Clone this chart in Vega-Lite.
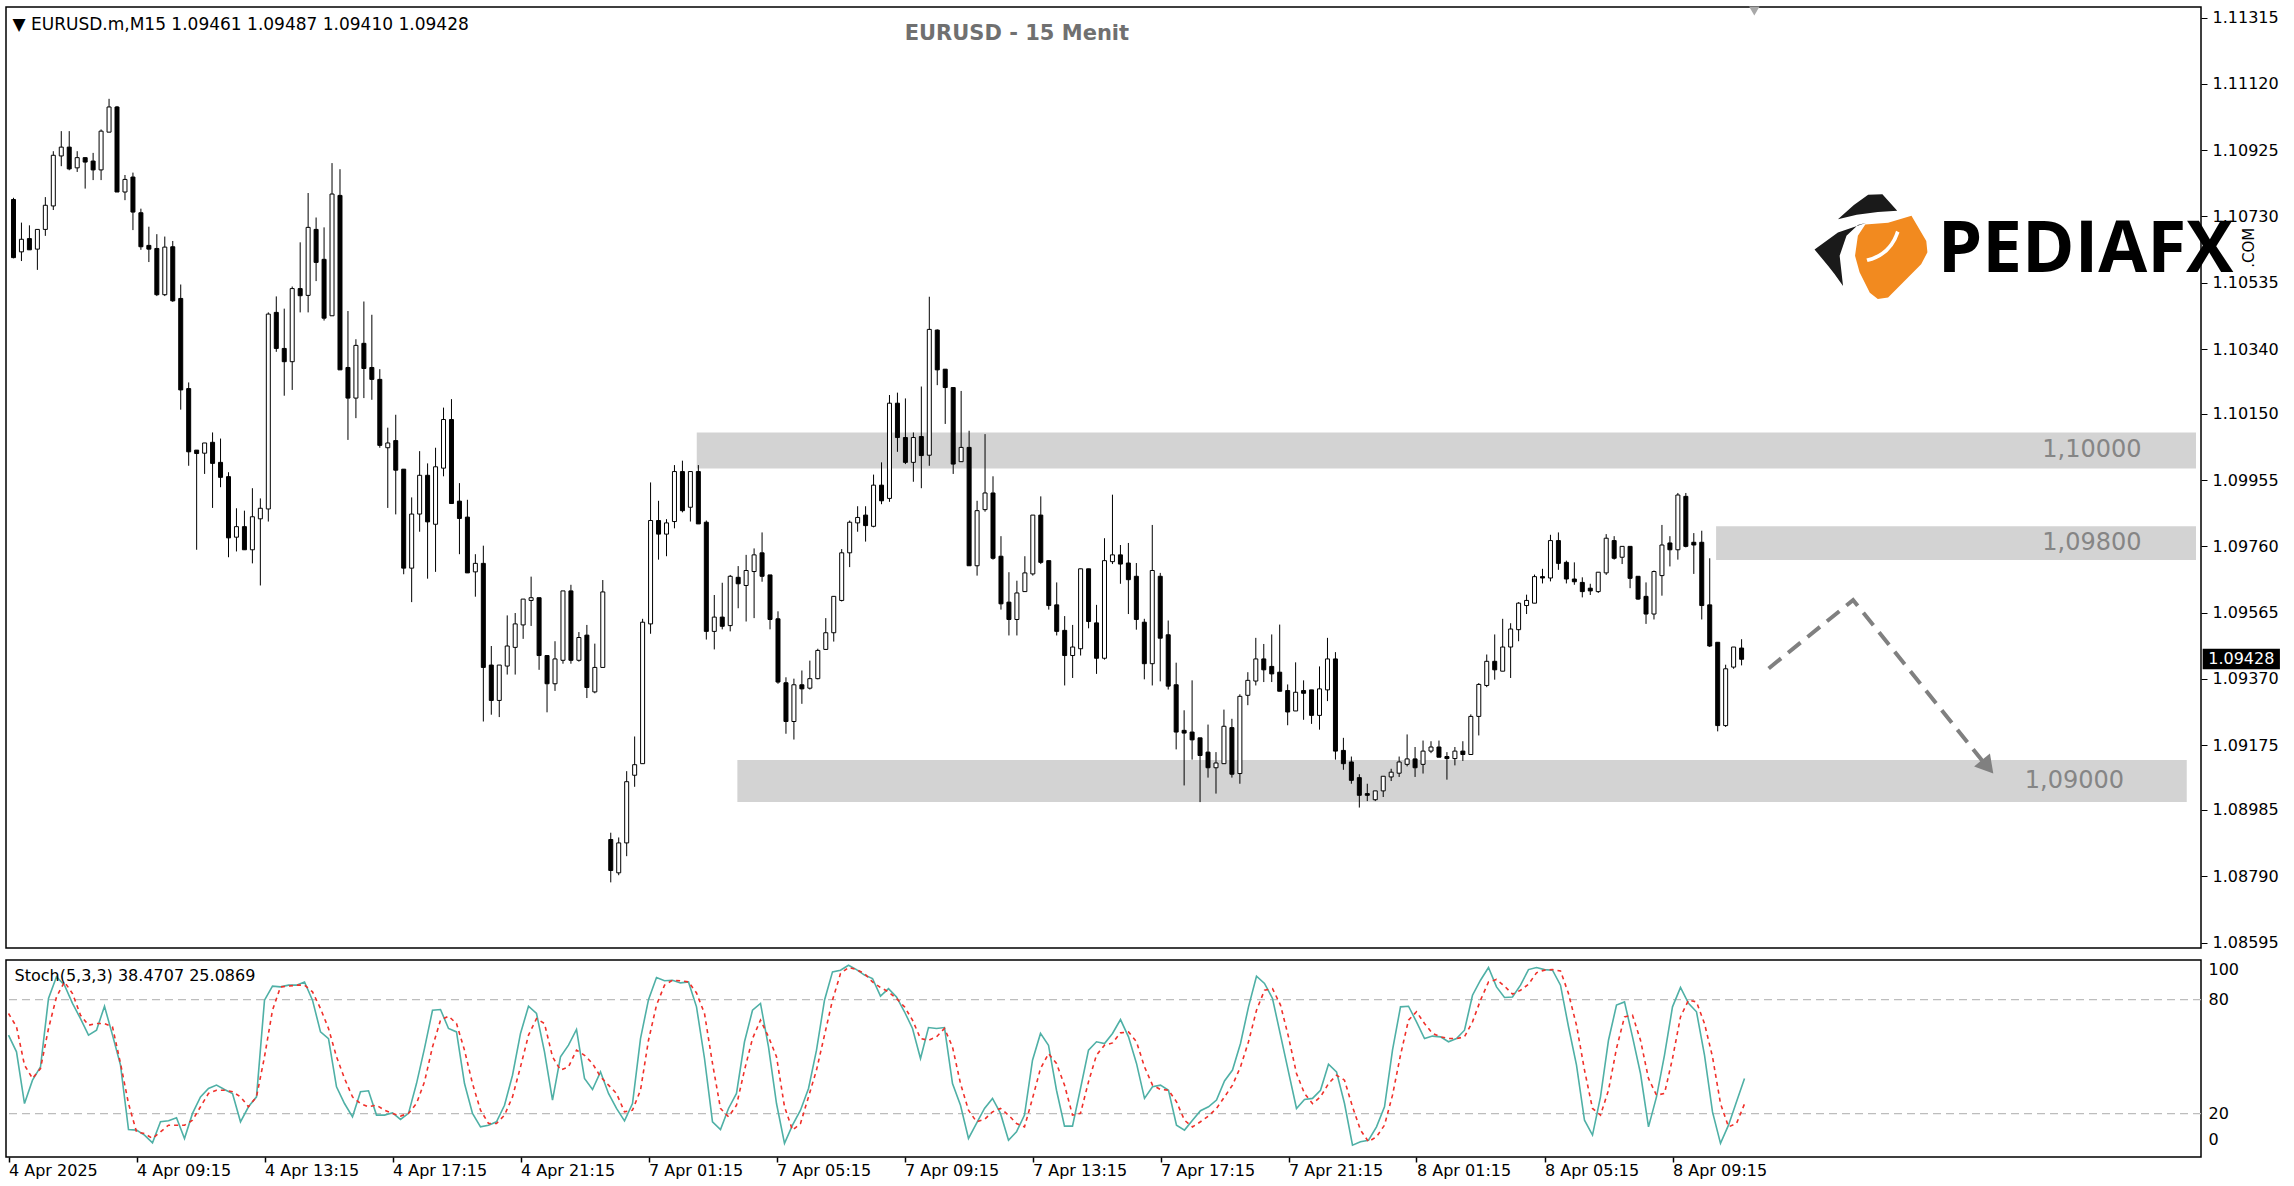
{
"$schema":"https://vega.github.io/schema/vega-lite/v6.json",
"background":"white",
"padding":{"left":4,"top":5,"right":0,"bottom":0},
"autosize":{"type":"pad"},
"spacing":7,
"config":{"view":{"stroke":"black","strokeWidth":1.5},"axis":{"labelFont":"DejaVu Sans","labelFontSize":16,"labelColor":"black","domain":false,"grid":false,"tickColor":"black","title":null}},
"datasets":{"bars":[
{"i":0,"o":1.1078,"h":1.10785,"l":1.10607,"c":1.10609,"k":61.3,"d":72.7},
{"i":1,"o":1.10626,"h":1.10712,"l":1.10599,"c":1.10663,"k":52.5,"d":65.7},
{"i":2,"o":1.10665,"h":1.10704,"l":1.10632,"c":1.10632,"k":25.3,"d":45.5},
{"i":3,"o":1.10634,"h":1.10692,"l":1.10573,"c":1.10692,"k":37.6,"d":38.5},
{"i":4,"o":1.10692,"h":1.10787,"l":1.10673,"c":1.10763,"k":44.6,"d":43.7},
{"i":5,"o":1.10761,"h":1.10922,"l":1.10749,"c":1.1091,"k":80.6,"d":64.8},
{"i":6,"o":1.10908,"h":1.10981,"l":1.10878,"c":1.10934,"k":92.0,"d":81.4},
{"i":7,"o":1.10934,"h":1.10981,"l":1.10866,"c":1.1087,"k":87.6,"d":89.3},
{"i":8,"o":1.10873,"h":1.10922,"l":1.10861,"c":1.10903,"k":78.0,"d":83.2},
{"i":9,"o":1.10903,"h":1.10903,"l":1.10812,"c":1.1089,"k":70.0,"d":71.8},
{"i":10,"o":1.10893,"h":1.10917,"l":1.10837,"c":1.10867,"k":61.3,"d":66.5},
{"i":11,"o":1.10867,"h":1.10986,"l":1.10837,"c":1.10981,"k":63.9,"d":67.4},
{"i":12,"o":1.10978,"h":1.11076,"l":1.10978,"c":1.11052,"k":76.5,"d":67.4},
{"i":13,"o":1.11052,"h":1.11055,"l":1.10802,"c":1.10802,"k":61.3,"d":65.7},
{"i":14,"o":1.10802,"h":1.10852,"l":1.10778,"c":1.10839,"k":45.5,"d":46.4},
{"i":15,"o":1.10846,"h":1.10859,"l":1.1069,"c":1.10743,"k":11.6,"d":25.3},
{"i":16,"o":1.10741,"h":1.10753,"l":1.10632,"c":1.10641,"k":11.3,"d":10.4},
{"i":17,"o":1.10645,"h":1.107,"l":1.10596,"c":1.10634,"k":8.7,"d":9.5},
{"i":18,"o":1.10636,"h":1.10678,"l":1.10496,"c":1.105,"k":4.6,"d":6.9},
{"i":19,"o":1.105,"h":1.10671,"l":1.10496,"c":1.1064,"k":15.7,"d":10.4},
{"i":20,"o":1.10641,"h":1.10658,"l":1.10479,"c":1.10482,"k":16.2,"d":13.9},
{"i":21,"o":1.10489,"h":1.1053,"l":1.10162,"c":1.1022,"k":17.8,"d":13.9},
{"i":22,"o":1.10224,"h":1.10242,"l":1.09997,"c":1.10038,"k":6.9,"d":13.9},
{"i":23,"o":1.10043,"h":1.10043,"l":1.0975,"c":1.10033,"k":20.1,"d":16.5},
{"i":24,"o":1.10034,"h":1.10064,"l":1.09973,"c":1.10064,"k":28.8,"d":23.6},
{"i":25,"o":1.10066,"h":1.10095,"l":1.09873,"c":1.10004,"k":33.2,"d":30.6},
{"i":26,"o":1.10007,"h":1.10077,"l":1.09934,"c":1.09963,"k":35.0,"d":32.3},
{"i":27,"o":1.09965,"h":1.09978,"l":1.09728,"c":1.09785,"k":32.7,"d":32.3},
{"i":28,"o":1.09787,"h":1.09872,"l":1.09745,"c":1.09818,"k":30.6,"d":31.5},
{"i":29,"o":1.09818,"h":1.09865,"l":1.0975,"c":1.0975,"k":15.7,"d":28.8},
{"i":30,"o":1.0975,"h":1.09931,"l":1.0971,"c":1.09847,"k":23.6,"d":23.6},
{"i":31,"o":1.09841,"h":1.09901,"l":1.09645,"c":1.09872,"k":28.8,"d":28.8},
{"i":32,"o":1.0987,"h":1.10448,"l":1.09833,"c":1.10443,"k":79.7,"d":49.9},
{"i":33,"o":1.10448,"h":1.10495,"l":1.10332,"c":1.10342,"k":87.1,"d":74.4},
{"i":34,"o":1.10342,"h":1.10459,"l":1.10203,"c":1.10303,"k":86.7,"d":86.7},
{"i":35,"o":1.10303,"h":1.10524,"l":1.1022,"c":1.10518,"k":87.6,"d":87.1},
{"i":36,"o":1.10518,"h":1.10654,"l":1.10448,"c":1.10497,"k":87.6,"d":87.6},
{"i":37,"o":1.10498,"h":1.10799,"l":1.10448,"c":1.10698,"k":89.3,"d":87.6},
{"i":38,"o":1.10692,"h":1.10727,"l":1.1054,"c":1.10595,"k":79.7,"d":84.1},
{"i":39,"o":1.10604,"h":1.10698,"l":1.10424,"c":1.10431,"k":63.0,"d":75.3},
{"i":40,"o":1.10438,"h":1.10887,"l":1.10438,"c":1.10796,"k":59.5,"d":64.8},
{"i":41,"o":1.10792,"h":1.10869,"l":1.10279,"c":1.10279,"k":34.1,"d":49.9},
{"i":42,"o":1.10286,"h":1.10452,"l":1.10073,"c":1.10196,"k":25.3,"d":38.5},
{"i":43,"o":1.10196,"h":1.10369,"l":1.10137,"c":1.10351,"k":18.3,"d":28.8},
{"i":44,"o":1.10357,"h":1.1048,"l":1.10196,"c":1.10283,"k":31.5,"d":25.3},
{"i":45,"o":1.10286,"h":1.10441,"l":1.10191,"c":1.10251,"k":32.0,"d":23.6},
{"i":46,"o":1.10251,"h":1.10281,"l":1.1005,"c":1.10057,"k":19.2,"d":24.4},
{"i":47,"o":1.1005,"h":1.10109,"l":1.09873,"c":1.10064,"k":19.2,"d":21.8},
{"i":48,"o":1.10071,"h":1.10147,"l":1.09854,"c":1.09984,"k":20.4,"d":20.1},
{"i":49,"o":1.09987,"h":1.09987,"l":1.09678,"c":1.09696,"k":16.9,"d":18.7},
{"i":50,"o":1.09696,"h":1.09904,"l":1.09596,"c":1.09855,"k":20.1,"d":20.1},
{"i":51,"o":1.09855,"h":1.1004,"l":1.09803,"c":1.09969,"k":35.8,"d":25.3},
{"i":52,"o":1.09969,"h":1.10004,"l":1.09665,"c":1.09832,"k":54.3,"d":36.7},
{"i":53,"o":1.09825,"h":1.1005,"l":1.09685,"c":1.09994,"k":74.4,"d":55.1},
{"i":54,"o":1.0999,"h":1.10168,"l":1.09966,"c":1.10133,"k":74.8,"d":69.2},
{"i":55,"o":1.10133,"h":1.10193,"l":1.09886,"c":1.09886,"k":64.8,"d":71.3},
{"i":56,"o":1.09893,"h":1.09946,"l":1.09737,"c":1.09842,"k":63.0,"d":67.4},
{"i":57,"o":1.09846,"h":1.09897,"l":1.09682,"c":1.09682,"k":35.8,"d":53.4},
{"i":58,"o":1.09685,"h":1.09737,"l":1.09612,"c":1.0971,"k":20.1,"d":35.8},
{"i":59,"o":1.0971,"h":1.09762,"l":1.09245,"c":1.09404,"k":13.0,"d":21.8},
{"i":60,"o":1.09411,"h":1.09467,"l":1.09265,"c":1.09307,"k":13.9,"d":14.8},
{"i":61,"o":1.09307,"h":1.09411,"l":1.09258,"c":1.09411,"k":15.7,"d":14.8},
{"i":62,"o":1.09408,"h":1.09557,"l":1.09383,"c":1.09467,"k":24.4,"d":19.2},
{"i":63,"o":1.09463,"h":1.09564,"l":1.09383,"c":1.09532,"k":40.2,"d":28.8},
{"i":64,"o":1.09529,"h":1.09605,"l":1.09488,"c":1.09605,"k":62.2,"d":44.6},
{"i":65,"o":1.09601,"h":1.09671,"l":1.09526,"c":1.09609,"k":76.5,"d":61.3},
{"i":66,"o":1.09609,"h":1.09609,"l":1.09397,"c":1.09439,"k":72.7,"d":70.0},
{"i":67,"o":1.09439,"h":1.09439,"l":1.09272,"c":1.09356,"k":52.5,"d":67.4},
{"i":68,"o":1.09356,"h":1.09481,"l":1.09335,"c":1.09429,"k":27.1,"d":49.9},
{"i":69,"o":1.09425,"h":1.09629,"l":1.09415,"c":1.09629,"k":49.9,"d":42.9},
{"i":70,"o":1.09629,"h":1.09647,"l":1.09415,"c":1.09425,"k":56.0,"d":44.6},
{"i":71,"o":1.09425,"h":1.09508,"l":1.09421,"c":1.09492,"k":64.3,"d":53.4},
{"i":72,"o":1.09499,"h":1.09529,"l":1.09314,"c":1.09345,"k":38.5,"d":50.7},
{"i":73,"o":1.09332,"h":1.09474,"l":1.09328,"c":1.09404,"k":32.7,"d":46.4},
{"i":74,"o":1.09404,"h":1.09661,"l":1.09404,"c":1.09626,"k":42.0,"d":39.4},
{"i":75,"o":1.08898,"h":1.08918,"l":1.08772,"c":1.08807,"k":30.6,"d":35.0},
{"i":76,"o":1.088,"h":1.08904,"l":1.08793,"c":1.08888,"k":22.7,"d":30.6},
{"i":77,"o":1.08888,"h":1.09099,"l":1.08849,"c":1.09068,"k":16.2,"d":20.9},
{"i":78,"o":1.09087,"h":1.09201,"l":1.09053,"c":1.09118,"k":25.3,"d":21.8},
{"i":79,"o":1.09121,"h":1.09547,"l":1.09121,"c":1.09537,"k":59.5,"d":32.3},
{"i":80,"o":1.09532,"h":1.09948,"l":1.09503,"c":1.09836,"k":80.0,"d":58.6},
{"i":81,"o":1.09836,"h":1.09894,"l":1.09721,"c":1.09796,"k":91.6,"d":77.1},
{"i":82,"o":1.09796,"h":1.0984,"l":1.09731,"c":1.09829,"k":89.9,"d":87.6},
{"i":83,"o":1.09833,"h":1.09999,"l":1.09813,"c":1.0998,"k":90.2,"d":90.2},
{"i":84,"o":1.0998,"h":1.10012,"l":1.0986,"c":1.09865,"k":88.8,"d":89.9},
{"i":85,"o":1.09875,"h":1.0998,"l":1.09833,"c":1.0998,"k":89.3,"d":89.3},
{"i":86,"o":1.0998,"h":1.09999,"l":1.09826,"c":1.09826,"k":76.2,"d":83.5},
{"i":87,"o":1.09831,"h":1.09836,"l":1.09486,"c":1.0951,"k":49.0,"d":72.7},
{"i":88,"o":1.0951,"h":1.09617,"l":1.09457,"c":1.09552,"k":15.7,"d":46.4},
{"i":89,"o":1.09552,"h":1.09653,"l":1.09516,"c":1.09525,"k":11.6,"d":22.7},
{"i":90,"o":1.09527,"h":1.09676,"l":1.0951,"c":1.09672,"k":22.7,"d":18.3},
{"i":91,"o":1.09669,"h":1.09702,"l":1.09578,"c":1.0965,"k":30.6,"d":24.4},
{"i":92,"o":1.09645,"h":1.09735,"l":1.09539,"c":1.09689,"k":57.8,"d":42.9},
{"i":93,"o":1.09686,"h":1.09754,"l":1.09549,"c":1.09735,"k":74.4,"d":59.5},
{"i":94,"o":1.09741,"h":1.09801,"l":1.09656,"c":1.09672,"k":78.0,"d":69.2},
{"i":95,"o":1.09676,"h":1.09676,"l":1.09516,"c":1.09545,"k":55.1,"d":60.4},
{"i":96,"o":1.09547,"h":1.09569,"l":1.09356,"c":1.09361,"k":25.3,"d":49.9},
{"i":97,"o":1.09359,"h":1.09375,"l":1.09209,"c":1.09245,"k":4.3,"d":23.6},
{"i":98,"o":1.09245,"h":1.09371,"l":1.09192,"c":1.09353,"k":13.9,"d":11.3},
{"i":99,"o":1.09353,"h":1.09395,"l":1.09297,"c":1.09341,"k":21.8,"d":14.8},
{"i":100,"o":1.09343,"h":1.09424,"l":1.09339,"c":1.09371,"k":33.2,"d":28.8},
{"i":101,"o":1.09371,"h":1.09459,"l":1.09369,"c":1.09454,"k":53.4,"d":42.9},
{"i":102,"o":1.09457,"h":1.09549,"l":1.09457,"c":1.09506,"k":79.7,"d":61.3},
{"i":103,"o":1.09506,"h":1.09613,"l":1.0948,"c":1.09613,"k":94.6,"d":79.7},
{"i":104,"o":1.09601,"h":1.09752,"l":1.09598,"c":1.09741,"k":95.5,"d":93.7},
{"i":105,"o":1.09741,"h":1.09836,"l":1.09699,"c":1.09831,"k":98.1,"d":96.9},
{"i":106,"o":1.09829,"h":1.09878,"l":1.09803,"c":1.09845,"k":95.8,"d":95.8},
{"i":107,"o":1.09852,"h":1.09878,"l":1.09774,"c":1.09821,"k":92.9,"d":93.7},
{"i":108,"o":1.09819,"h":1.09971,"l":1.09816,"c":1.0994,"k":91.1,"d":89.3},
{"i":109,"o":1.0994,"h":1.10007,"l":1.09884,"c":1.09894,"k":81.8,"d":86.4},
{"i":110,"o":1.09901,"h":1.10205,"l":1.09891,"c":1.10181,"k":85.8,"d":84.1},
{"i":111,"o":1.10181,"h":1.10212,"l":1.10038,"c":1.1008,"k":81.4,"d":80.6},
{"i":112,"o":1.1008,"h":1.10195,"l":1.10002,"c":1.10007,"k":73.6,"d":76.2},
{"i":113,"o":1.10007,"h":1.10095,"l":1.0995,"c":1.1008,"k":64.8,"d":69.2},
{"i":114,"o":1.10083,"h":1.1023,"l":1.09931,"c":1.10027,"k":49.0,"d":59.5},
{"i":115,"o":1.10028,"h":1.10494,"l":1.09997,"c":1.10398,"k":65.3,"d":58.6},
{"i":116,"o":1.10396,"h":1.10398,"l":1.10234,"c":1.10279,"k":64.8,"d":60.4},
{"i":117,"o":1.10281,"h":1.10281,"l":1.1012,"c":1.10227,"k":65.3,"d":64.8},
{"i":118,"o":1.10227,"h":1.10227,"l":1.09973,"c":1.10002,"k":35.8,"d":55.1},
{"i":119,"o":1.10009,"h":1.10217,"l":1.10009,"c":1.10051,"k":24.4,"d":35.8},
{"i":120,"o":1.10051,"h":1.101,"l":1.09703,"c":1.09703,"k":6.9,"d":21.8},
{"i":121,"o":1.09703,"h":1.09894,"l":1.09674,"c":1.09865,"k":14.8,"d":15.7},
{"i":122,"o":1.09868,"h":1.1009,"l":1.09862,"c":1.09917,"k":22.7,"d":16.9},
{"i":123,"o":1.09917,"h":1.09966,"l":1.09721,"c":1.09725,"k":28.0,"d":20.9},
{"i":124,"o":1.09731,"h":1.0979,"l":1.09574,"c":1.09591,"k":20.1,"d":22.7},
{"i":125,"o":1.09596,"h":1.09684,"l":1.09498,"c":1.09545,"k":6.0,"d":19.2},
{"i":126,"o":1.09545,"h":1.09659,"l":1.09498,"c":1.09623,"k":10.4,"d":14.8},
{"i":127,"o":1.09627,"h":1.09731,"l":1.09627,"c":1.09682,"k":19.2,"d":13.0},
{"i":128,"o":1.09679,"h":1.09852,"l":1.09674,"c":1.09852,"k":48.1,"d":28.0},
{"i":129,"o":1.09852,"h":1.09907,"l":1.09708,"c":1.09713,"k":62.2,"d":43.7},
{"i":130,"o":1.09718,"h":1.09718,"l":1.09574,"c":1.09586,"k":56.0,"d":51.6},
{"i":131,"o":1.09588,"h":1.09654,"l":1.09498,"c":1.0951,"k":32.3,"d":46.4},
{"i":132,"o":1.09513,"h":1.09555,"l":1.09351,"c":1.09439,"k":13.4,"d":35.0},
{"i":133,"o":1.09439,"h":1.09529,"l":1.09373,"c":1.09464,"k":13.4,"d":19.2},
{"i":134,"o":1.09459,"h":1.09694,"l":1.09439,"c":1.09694,"k":33.2,"d":20.1},
{"i":135,"o":1.09694,"h":1.09694,"l":1.09519,"c":1.09539,"k":53.4,"d":36.7},
{"i":136,"o":1.09535,"h":1.09588,"l":1.09385,"c":1.09431,"k":57.8,"d":50.8},
{"i":137,"o":1.09431,"h":1.09784,"l":1.09427,"c":1.09718,"k":56.9,"d":56.0},
{"i":138,"o":1.09715,"h":1.09912,"l":1.09708,"c":1.09735,"k":62.2,"d":57.2},
{"i":139,"o":1.09735,"h":1.09764,"l":1.0965,"c":1.09708,"k":69.5,"d":62.5},
{"i":140,"o":1.09711,"h":1.0977,"l":1.09561,"c":1.09662,"k":60.4,"d":63.0},
{"i":141,"o":1.09672,"h":1.09711,"l":1.09515,"c":1.09545,"k":46.4,"d":57.8},
{"i":142,"o":1.09537,"h":1.09547,"l":1.09369,"c":1.09415,"k":28.0,"d":44.6},
{"i":143,"o":1.09415,"h":1.09823,"l":1.09351,"c":1.09689,"k":34.1,"d":35.0},
{"i":144,"o":1.09672,"h":1.09682,"l":1.09363,"c":1.0949,"k":35.0,"d":32.7},
{"i":145,"o":1.095,"h":1.09542,"l":1.09339,"c":1.09349,"k":32.3,"d":32.3},
{"i":146,"o":1.09353,"h":1.09418,"l":1.09163,"c":1.09214,"k":13.9,"d":26.2},
{"i":147,"o":1.09219,"h":1.09278,"l":1.09057,"c":1.09211,"k":11.3,"d":16.5},
{"i":148,"o":1.09214,"h":1.09366,"l":1.09133,"c":1.09191,"k":16.5,"d":13.0},
{"i":149,"o":1.09197,"h":1.09197,"l":1.09008,"c":1.09145,"k":21.5,"d":15.7},
{"i":150,"o":1.09155,"h":1.09236,"l":1.0908,"c":1.09109,"k":23.6,"d":18.7},
{"i":151,"o":1.09109,"h":1.09155,"l":1.09033,"c":1.09123,"k":27.1,"d":22.7},
{"i":152,"o":1.09121,"h":1.0928,"l":1.09121,"c":1.09231,"k":37.2,"d":28.8},
{"i":153,"o":1.09227,"h":1.09253,"l":1.0908,"c":1.0909,"k":42.9,"d":35.0},
{"i":154,"o":1.09092,"h":1.09325,"l":1.09062,"c":1.09319,"k":56.9,"d":44.6},
{"i":155,"o":1.09322,"h":1.0939,"l":1.09293,"c":1.09366,"k":76.2,"d":57.8},
{"i":156,"o":1.09364,"h":1.09491,"l":1.09351,"c":1.09429,"k":92.3,"d":74.4},
{"i":157,"o":1.09429,"h":1.09473,"l":1.09361,"c":1.09397,"k":88.5,"d":84.9},
{"i":158,"o":1.09407,"h":1.09501,"l":1.09361,"c":1.09385,"k":80.6,"d":85.8},
{"i":159,"o":1.0939,"h":1.0953,"l":1.09334,"c":1.09334,"k":61.3,"d":77.1},
{"i":160,"o":1.09336,"h":1.09354,"l":1.09234,"c":1.09273,"k":42.0,"d":60.4},
{"i":161,"o":1.09276,"h":1.09419,"l":1.09276,"c":1.09331,"k":22.7,"d":41.1},
{"i":162,"o":1.09336,"h":1.09366,"l":1.0925,"c":1.09328,"k":27.4,"d":30.6},
{"i":163,"o":1.09338,"h":1.09338,"l":1.09238,"c":1.09263,"k":28.0,"d":25.3},
{"i":164,"o":1.09263,"h":1.09407,"l":1.09221,"c":1.09341,"k":32.3,"d":28.8},
{"i":165,"o":1.09338,"h":1.09491,"l":1.09305,"c":1.09429,"k":46.0,"d":35.8},
{"i":166,"o":1.09429,"h":1.09449,"l":1.09133,"c":1.09158,"k":42.0,"d":40.2},
{"i":167,"o":1.0916,"h":1.09197,"l":1.09103,"c":1.09121,"k":25.3,"d":37.6},
{"i":168,"o":1.09126,"h":1.09142,"l":1.09062,"c":1.09072,"k":3.4,"d":23.6},
{"i":169,"o":1.0908,"h":1.0909,"l":1.08992,"c":1.09028,"k":5.2,"d":11.3},
{"i":170,"o":1.09033,"h":1.09062,"l":1.09011,"c":1.09028,"k":6.0,"d":5.2},
{"i":171,"o":1.09015,"h":1.09041,"l":1.09011,"c":1.09041,"k":13.0,"d":7.8},
{"i":172,"o":1.09041,"h":1.09084,"l":1.09023,"c":1.09084,"k":23.6,"d":13.9},
{"i":173,"o":1.09082,"h":1.09106,"l":1.0907,"c":1.09096,"k":53.4,"d":29.7},
{"i":174,"o":1.09093,"h":1.09142,"l":1.09082,"c":1.09126,"k":76.2,"d":50.8},
{"i":175,"o":1.09119,"h":1.09207,"l":1.09113,"c":1.09135,"k":76.5,"d":69.2},
{"i":176,"o":1.09135,"h":1.0917,"l":1.09082,"c":1.09109,"k":68.3,"d":73.6},
{"i":177,"o":1.09119,"h":1.09189,"l":1.09092,"c":1.09158,"k":59.5,"d":67.4},
{"i":178,"o":1.09158,"h":1.09187,"l":1.09152,"c":1.0917,"k":60.8,"d":62.2},
{"i":179,"o":1.0917,"h":1.09189,"l":1.0914,"c":1.0914,"k":60.4,"d":60.4},
{"i":180,"o":1.09142,"h":1.09155,"l":1.09074,"c":1.09136,"k":57.8,"d":59.5},
{"i":181,"o":1.09136,"h":1.0917,"l":1.09116,"c":1.09158,"k":59.5,"d":59.5},
{"i":182,"o":1.09158,"h":1.09187,"l":1.09129,"c":1.09148,"k":63.9,"d":60.4},
{"i":183,"o":1.09148,"h":1.09266,"l":1.09148,"c":1.0926,"k":82.3,"d":68.3},
{"i":184,"o":1.0926,"h":1.09358,"l":1.09204,"c":1.09354,"k":90.2,"d":79.7},
{"i":185,"o":1.09351,"h":1.09442,"l":1.09346,"c":1.09422,"k":96.9,"d":89.3},
{"i":186,"o":1.09422,"h":1.09501,"l":1.09368,"c":1.09397,"k":86.7,"d":90.6},
{"i":187,"o":1.09393,"h":1.09547,"l":1.09393,"c":1.09464,"k":81.1,"d":87.1},
{"i":188,"o":1.09464,"h":1.09534,"l":1.09373,"c":1.09517,"k":81.4,"d":82.9},
{"i":189,"o":1.09515,"h":1.09596,"l":1.09481,"c":1.09593,"k":87.6,"d":84.9},
{"i":190,"o":1.09586,"h":1.09618,"l":1.09561,"c":1.09601,"k":95.8,"d":88.1},
{"i":191,"o":1.09593,"h":1.09677,"l":1.09593,"c":1.09671,"k":96.9,"d":94.1},
{"i":192,"o":1.09671,"h":1.09694,"l":1.09651,"c":1.09667,"k":95.8,"d":95.5},
{"i":193,"o":1.09667,"h":1.09794,"l":1.09657,"c":1.09777,"k":95.5,"d":95.8},
{"i":194,"o":1.09777,"h":1.09801,"l":1.09691,"c":1.0971,"k":87.6,"d":95.1},
{"i":195,"o":1.09713,"h":1.09718,"l":1.09651,"c":1.09664,"k":65.7,"d":83.2},
{"i":196,"o":1.09664,"h":1.09713,"l":1.09647,"c":1.09656,"k":45.5,"d":66.5},
{"i":197,"o":1.09654,"h":1.09669,"l":1.0961,"c":1.09627,"k":16.5,"d":42.9},
{"i":198,"o":1.09637,"h":1.0965,"l":1.09617,"c":1.09629,"k":8.7,"d":22.7},
{"i":199,"o":1.09627,"h":1.09684,"l":1.09623,"c":1.09684,"k":28.8,"d":19.2},
{"i":200,"o":1.09682,"h":1.09796,"l":1.09676,"c":1.09784,"k":58.6,"d":32.3},
{"i":201,"o":1.09777,"h":1.0979,"l":1.09721,"c":1.09725,"k":77.1,"d":54.3},
{"i":202,"o":1.09728,"h":1.0976,"l":1.09708,"c":1.0976,"k":78.8,"d":70.9},
{"i":203,"o":1.0976,"h":1.0976,"l":1.09637,"c":1.09666,"k":60.4,"d":71.8},
{"i":204,"o":1.09672,"h":1.09672,"l":1.09603,"c":1.09605,"k":41.1,"d":58.6},
{"i":205,"o":1.09613,"h":1.09654,"l":1.09532,"c":1.09561,"k":13.0,"d":38.5},
{"i":206,"o":1.09561,"h":1.09689,"l":1.09545,"c":1.09686,"k":28.8,"d":29.7},
{"i":207,"o":1.09674,"h":1.09823,"l":1.09615,"c":1.09764,"k":50.8,"d":30.6},
{"i":208,"o":1.0977,"h":1.0979,"l":1.09701,"c":1.0975,"k":76.2,"d":49.0},
{"i":209,"o":1.0975,"h":1.09917,"l":1.09721,"c":1.09911,"k":86.4,"d":70.9},
{"i":210,"o":1.09907,"h":1.09917,"l":1.09757,"c":1.0976,"k":78.0,"d":79.7},
{"i":211,"o":1.09772,"h":1.09799,"l":1.09679,"c":1.09764,"k":73.6,"d":78.8},
{"i":212,"o":1.09772,"h":1.09806,"l":1.09545,"c":1.09586,"k":50.8,"d":67.4},
{"i":213,"o":1.09588,"h":1.09725,"l":1.09464,"c":1.09467,"k":20.9,"d":49.9},
{"i":214,"o":1.09478,"h":1.09478,"l":1.09216,"c":1.09233,"k":4.3,"d":25.3},
{"i":215,"o":1.09233,"h":1.09412,"l":1.09229,"c":1.094,"k":13.9,"d":13.0},
{"i":216,"o":1.09405,"h":1.09464,"l":1.094,"c":1.09464,"k":26.2,"d":14.8},
{"i":217,"o":1.09461,"h":1.09487,"l":1.0941,"c":1.09428,"k":38.4707,"d":25.0869}
]},
"vconcat":[
{"width":2195,"height":941,
"layer":[
{"data":{"values":[{"x1":85.8,"x2":274.0625,"y1":1.09989,"y2":1.10095},{"x1":213.8,"x2":274.0625,"y1":1.0972,"y2":1.09819},{"x1":90.9,"x2":272.9,"y1":1.09008,"y2":1.09132}]},
"mark":{"type":"rect","fill":"#d3d3d3"},
"encoding":{"x":{"field":"x1","type":"quantitative","scale":{"domain":[-0.3125,274.0625],"nice":false,"zero":false},"axis":null},"x2":{"field":"x2"},
"y":{"field":"y1","type":"quantitative","scale":{"domain":[1.08579,1.11346],"nice":false,"zero":false},"axis":{"orient":"right","values":[1.11315,1.1112,1.10925,1.1073,1.10535,1.1034,1.1015,1.09955,1.0976,1.09565,1.0937,1.09175,1.08985,1.0879,1.08595],"format":".5f","tickSize":6,"tickWidth":1,"labelPadding":5,"labelBaseline":"middle","labelFlush":false,"labelOverlap":false}},"y2":{"field":"y2"}}},
{"data":{"values":[{"x":261,"y":1.10042,"t":"1,10000"},{"x":261,"y":1.0977,"t":"1,09800"},{"x":258.8,"y":1.0907,"t":"1,09000"}]},
"mark":{"type":"text","font":"DejaVu Sans","fontSize":24,"color":"#858585","align":"center","baseline":"middle"},
"encoding":{"x":{"field":"x","type":"quantitative","axis":null},"y":{"field":"y","type":"quantitative"},"text":{"field":"t"}}},
{"mark":{"type":"rule","color":"#c0c0c0","strokeWidth":1},"encoding":{"y":{"datum":1.09428,"type":"quantitative"}}},
{"data":{"name":"bars"},"mark":{"type":"rule","color":"black","strokeWidth":1},
"encoding":{"x":{"field":"i","type":"quantitative","axis":null},"y":{"field":"l","type":"quantitative"},"y2":{"field":"h"}}},
{"data":{"name":"bars"},"mark":{"type":"bar","width":4,"stroke":"black","strokeWidth":1},
"encoding":{"x":{"field":"i","type":"quantitative","axis":null},"y":{"field":"o","type":"quantitative"},"y2":{"field":"c"},
"fill":{"condition":{"test":"datum.c >= datum.o","value":"white"},"value":"black"}}},
{"data":{"values":[{"x":220.4,"y":1.09401,"n":0},{"x":231,"y":1.09602,"n":1},{"x":247.4,"y":1.09125,"n":2}]},
"mark":{"type":"line","color":"#808080","strokeWidth":4,"strokeDash":[16,9]},
"encoding":{"x":{"field":"x","type":"quantitative","axis":null},"y":{"field":"y","type":"quantitative"},"order":{"field":"n"}}},
{"data":{"values":[{"x":247.9,"y":1.09112}]},
"mark":{"type":"point","shape":"triangle-right","angle":50.6,"filled":true,"size":420,"color":"#808080","opacity":1},
"encoding":{"x":{"field":"x","type":"quantitative","axis":null},"y":{"field":"y","type":"quantitative"}}},
{"data":{"values":[{"x":218.6,"y":1.11334}]},
"mark":{"type":"point","shape":"triangle-down","filled":true,"size":110,"color":"#a8a8a8","opacity":1},
"encoding":{"x":{"field":"x","type":"quantitative","axis":null},"y":{"field":"y","type":"quantitative"}}},
{"data":{"values":[{"x":-0.125,"y":1.11294,"t":"▼ EURUSD.m,M15  1.09461 1.09487 1.09410 1.09428"}]},
"mark":{"type":"text","font":"DejaVu Sans","fontSize":17,"color":"black","align":"left","baseline":"middle"},
"encoding":{"x":{"field":"x","type":"quantitative","axis":null},"y":{"field":"y","type":"quantitative"},"text":{"field":"t"}}},
{"data":{"values":[{"x":126,"y":1.11268,"t":"EURUSD - 15 Menit"}]},
"mark":{"type":"text","font":"DejaVu Sans","fontSize":21,"fontWeight":"bold","color":"#707070","align":"center","baseline":"middle"},
"encoding":{"x":{"field":"x","type":"quantitative","axis":null},"y":{"field":"y","type":"quantitative"},"text":{"field":"t"}}},
{"data":{"values":[{"x":233.25,"y":1.10643}]},
"mark":{"type":"point","shape":"M0.71,-0.53 L0.97,-0.09 L0.99,0.11 L0.88,0.32 L0.30,0.90 L0.12,0.93 L-0.02,0.82 L-0.2,0.46 L-0.28,0.17 L-0.23,-0.18 L-0.1,-0.38 L0.3,-0.41 Z","filled":true,"size":12996,"color":"#f28a1f","opacity":1,"strokeWidth":0},
"encoding":{"x":{"field":"x","type":"quantitative","axis":null},"y":{"field":"y","type":"quantitative"}}},
{"data":{"values":[{"x":233.25,"y":1.10643}]},
"mark":{"type":"point","shape":"M-0.08,0.22 Q0.32,0.12 0.44,-0.27 L0.5,-0.24 Q0.36,0.18 -0.06,0.28 Z","filled":true,"size":12996,"color":"white","opacity":1,"strokeWidth":0},
"encoding":{"x":{"field":"x","type":"quantitative","axis":null},"y":{"field":"y","type":"quantitative"}}},
{"data":{"values":[{"x":233.25,"y":1.10643}]},
"mark":{"type":"point","shape":"M-0.58,-0.47 L-0.3,-0.72 L-0.05,-0.9 L0.2,-0.91 L0.46,-0.62 L0.12,-0.6 L-0.25,-0.55 Z M-0.99,0.06 L-0.58,-0.24 L-0.08,-0.41 L-0.23,-0.37 L-0.43,-0.18 L-0.55,0.17 L-0.49,0.70 L-0.64,0.49 L-0.75,0.35 Z","filled":true,"size":12996,"color":"#1a1a1a","opacity":1,"strokeWidth":0},
"encoding":{"x":{"field":"x","type":"quantitative","axis":null},"y":{"field":"y","type":"quantitative"}}},
{"data":{"values":[{"x":260.2,"y":1.10567,"t":"PEDIAFX"}]},
"mark":{"type":"text","font":"Open Sans","fontSize":71,"fontWeight":"bold","color":"black","align":"center","baseline":"alphabetic"},
"encoding":{"x":{"field":"x","type":"quantitative","axis":null},"y":{"field":"y","type":"quantitative"},"text":{"field":"t"}}},
{"data":{"values":[{"x":280.75,"y":1.10638,"t":".COM"}]},
"mark":{"type":"text","font":"DejaVu Sans","fontSize":15,"color":"black","align":"center","baseline":"middle","angle":270},
"encoding":{"x":{"field":"x","type":"quantitative","axis":null},"y":{"field":"y","type":"quantitative"},"text":{"field":"t"}}},
{"data":{"values":[{"x1":274.9,"x2":284.6,"y1":1.09399,"y2":1.09459}]},
"mark":{"type":"rect","fill":"black"},
"encoding":{"x":{"field":"x1","type":"quantitative","axis":null},"x2":{"field":"x2"},"y":{"field":"y1","type":"quantitative"},"y2":{"field":"y2"}}},
{"data":{"values":[{"x":279.75,"y":1.09428,"t":"1.09428"}]},
"mark":{"type":"text","font":"DejaVu Sans","fontSize":16,"color":"white","align":"center","baseline":"middle"},
"encoding":{"x":{"field":"x","type":"quantitative","axis":null},"y":{"field":"y","type":"quantitative"},"text":{"field":"t"}}}
]},
{"width":2195,"height":197,
"layer":[
{"data":{"values":[{"v":20},{"v":80}]},
"mark":{"type":"rule","color":"#bdbdbd","strokeWidth":1.3,"strokeDash":[8,5]},
"encoding":{"y":{"field":"v","type":"quantitative","scale":{"domain":[-2.85,100.85],"nice":false,"zero":false},"axis":{"orient":"right","values":[0,20,80,100],"tickSize":0,"labelPadding":7,"labelBaseline":{"condition":{"test":"datum.value == 100","value":"top"},"value":"middle"},"labelOffset":{"condition":{"test":"datum.value == 0","value":-12},"value":0},"labelFlush":false,"labelOverlap":false}}}},
{"data":{"name":"bars"},"mark":{"type":"line","color":"#4fb0a6","strokeWidth":1.6},
"encoding":{"x":{"field":"i","type":"quantitative","scale":{"domain":[-0.3125,274.0625],"nice":false,"zero":false},
"axis":{"values":[0,16,32,48,64,80,96,112,128,144,160,176,192,208],"labelExpr":"['4 Apr 2025','4 Apr 09:15','4 Apr 13:15','4 Apr 17:15','4 Apr 21:15','7 Apr 01:15','7 Apr 05:15','7 Apr 09:15','7 Apr 13:15','7 Apr 17:15','7 Apr 21:15','8 Apr 01:15','8 Apr 05:15','8 Apr 09:15'][round(datum.value/16)]","tickSize":5,"tickWidth":1.5,"labelAlign":"left","labelBaseline":"middle","labelPadding":8,"labelFontSize":16,"labelDx":-3,"labelFlush":false,"labelOverlap":false,"labelBound":false}},
"y":{"field":"k","type":"quantitative"}}},
{"data":{"name":"bars"},"mark":{"type":"line","color":"#f0302a","strokeWidth":1.6,"strokeDash":[4,4]},
"encoding":{"x":{"field":"i","type":"quantitative"},"y":{"field":"d","type":"quantitative"}}},
{"data":{"values":[{"x":0.75,"y":92.4,"t":"Stoch(5,3,3) 38.4707 25.0869"}]},
"mark":{"type":"text","font":"DejaVu Sans","fontSize":16,"color":"black","align":"left","baseline":"middle"},
"encoding":{"x":{"field":"x","type":"quantitative"},"y":{"field":"y","type":"quantitative"},"text":{"field":"t"}}}
]}
]
}
